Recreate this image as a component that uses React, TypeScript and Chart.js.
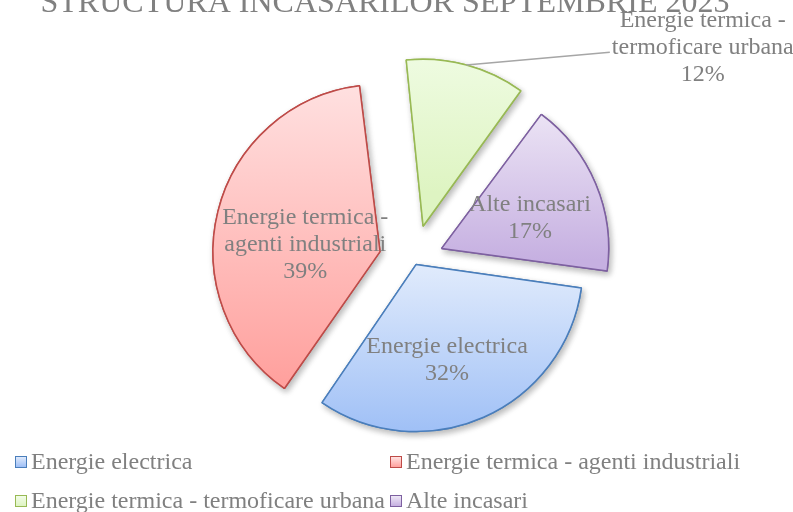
import React, { useEffect, useRef } from "react";
import { Chart, registerables } from "chart.js";

Chart.register(...registerables);

const titleText = "STRUCTURA INCASARILOR SEPTEMBRIE 2023";
const categories = [
  "Energie electrica",
  "Energie termica - agenti industriali",
  "Energie termica - termoficare urbana",
  "Alte incasari",
];
const values = [32.3, 38.7, 11.9, 17.1];
const borderColors = ["#4a7ebb", "#be4b48", "#98b954", "#7d60a0"];
const fillTop = ["#dfeafc", "#ffe2e2", "#f2fde8", "#eee7f6"];
const fillBottom = ["#9ebff6", "#ffa19e", "#def4c2", "#c6b0e1"];
const explodeOffsets = [20, 140, 140, 120];

const FONT = '"Liberation Serif", "Times New Roman", serif';
const TEXT_COLOR = "#808080";
const PIE_RADIUS = 167;
const ROTATION = 98;

// label placement: fraction along slice angle, fraction of radius (null => outside label)
const insideLabelPos: ({ a: number; r: number } | null)[] = [
  { a: 0.55, r: 0.6 },
  { a: 0.44, r: 0.45 },
  null,
  { a: 0.56, r: 0.56 },
];

const total = values.reduce((s, v) => s + v, 0);
const pctText = values.map((v) => Math.round((v / total) * 100) + "%");

function labelLines(cat: string, pct: string): string[] {
  const idx = cat.indexOf(" - ");
  const lines = idx >= 0 ? [cat.slice(0, idx + 2), cat.slice(idx + 3)] : [cat];
  return [...lines, pct];
}

const piePlugin = {
  id: "pieStyle",
  beforeDatasetsDraw(chart: any) {
    const ctx = chart.ctx as CanvasRenderingContext2D;
    const meta = chart.getDatasetMeta(0);
    meta.data.forEach((arc: any, i: number) => {
      const t = (arc.options.offset || 0) / 4;
      const circ = arc.endAngle - arc.startAngle;
      const fix = 1 - Math.sin(Math.min(Math.PI, circ));
      arc.outerRadius = PIE_RADIUS - t * fix;
      const mid = (arc.startAngle + arc.endAngle) / 2;
      const cy = arc.y + Math.sin(mid) * t;
      let minY = cy;
      let maxY = cy;
      for (let k = 0; k <= 90; k++) {
        const a = arc.startAngle + (circ * k) / 90;
        const y = cy + Math.sin(a) * PIE_RADIUS;
        minY = Math.min(minY, y);
        maxY = Math.max(maxY, y);
      }
      const g = ctx.createLinearGradient(0, minY, 0, maxY);
      g.addColorStop(0, fillTop[i]);
      g.addColorStop(1, fillBottom[i]);
      arc.options.backgroundColor = g;
    });
    ctx.save();
    ctx.shadowColor = "rgba(0,0,0,0.28)";
    ctx.shadowBlur = 6;
    ctx.shadowOffsetX = 2;
    ctx.shadowOffsetY = 3;
    meta.data.forEach((arc: any) => arc.draw(ctx));
    ctx.restore();
  },
  afterDatasetsDraw(chart: any) {
    const ctx = chart.ctx as CanvasRenderingContext2D;
    const meta = chart.getDatasetMeta(0);
    ctx.save();
    ctx.font = `24px ${FONT}`;
    ctx.fillStyle = TEXT_COLOR;
    ctx.textAlign = "center";
    ctx.textBaseline = "middle";
    const lh = 27;
    meta.data.forEach((arc: any, i: number) => {
      const t = (arc.options.offset || 0) / 4;
      const mid = (arc.startAngle + arc.endAngle) / 2;
      const vx = arc.x + Math.cos(mid) * t;
      const vy = arc.y + Math.sin(mid) * t;
      const lines = labelLines(categories[i], pctText[i]);
      const place = insideLabelPos[i];
      let lx: number;
      let ly: number;
      if (place) {
        const ang = arc.startAngle + place.a * (arc.endAngle - arc.startAngle);
        lx = vx + Math.cos(ang) * place.r * PIE_RADIUS;
        ly = vy + Math.sin(ang) * place.r * PIE_RADIUS;
      } else {
        const ang = ((57.4 - 90) * Math.PI) / 180;
        lx = vx + Math.cos(ang) * 332;
        ly = vy + Math.sin(ang) * 332;
        const w = ctx.measureText(lines[1]).width;
        ctx.save();
        ctx.strokeStyle = "#a6a6a6";
        ctx.lineWidth = 1.5;
        ctx.beginPath();
        ctx.moveTo(vx + Math.cos(mid) * PIE_RADIUS, vy + Math.sin(mid) * PIE_RADIUS);
        ctx.lineTo(lx - w / 2 - 2, ly + 5);
        ctx.stroke();
        ctx.restore();
      }
      const startY = ly - ((lines.length - 1) * lh) / 2;
      lines.forEach((ln, k) => ctx.fillText(ln, lx, startY + k * lh));
    });
    ctx.restore();
  },
  afterDraw(chart: any) {
    const ctx = chart.ctx as CanvasRenderingContext2D;
    ctx.save();
    ctx.font = `32px ${FONT}`;
    ctx.fillStyle = TEXT_COLOR;
    ctx.textAlign = "center";
    ctx.textBaseline = "alphabetic";
    ctx.fillText(titleText, 385, 12);
    ctx.restore();
  },
};

export default function App() {
  const canvasRef = useRef<HTMLCanvasElement | null>(null);

  useEffect(() => {
    if (!canvasRef.current) return;
    const chart = new Chart(canvasRef.current, {
      type: "pie",
      data: {
        labels: categories,
        datasets: [
          {
            data: values,
            backgroundColor: (c: any) => fillBottom[c.dataIndex],
            borderColor: borderColors,
            borderWidth: 1.5,
            offset: explodeOffsets,
            radius: PIE_RADIUS,
          } as any,
        ],
      },
      options: {
        animation: false,
        responsive: false,
        events: [],
        rotation: ROTATION,
        layout: { padding: { left: 35, top: 8, right: 0, bottom: 0 } },
        plugins: {
          legend: { display: false },
          title: { display: false },
          tooltip: { enabled: false },
        },
      },
      plugins: [piePlugin],
    });
    return () => chart.destroy();
  }, []);

  return (
    <div style={{ position: "absolute", left: 0, top: 0, width: 793, height: 512, background: "#fff", overflow: "hidden" }}>
      <canvas ref={canvasRef} width={793} height={512} style={{ position: "absolute", left: 0, top: 0 }} />
      <div
        style={{
          position: "absolute",
          left: 15,
          top: 442,
          display: "grid",
          gridTemplateColumns: "375px auto",
          gridAutoRows: "39px",
          alignItems: "center",
          fontFamily: FONT,
          fontSize: 24,
          color: TEXT_COLOR,
          whiteSpace: "nowrap",
        }}
      >
        {categories.map((c, i) => (
          <div key={c} style={{ display: "flex", alignItems: "center" }}>
            <span
              style={{
                display: "inline-block",
                width: 10,
                height: 10,
                border: `1.5px solid ${borderColors[i]}`,
                background: `linear-gradient(${fillTop[i]}, ${fillBottom[i]})`,
                marginRight: 4,
                boxSizing: "content-box",
              }}
            />
            <span>{c}</span>
          </div>
        ))}
      </div>
    </div>
  );
}
